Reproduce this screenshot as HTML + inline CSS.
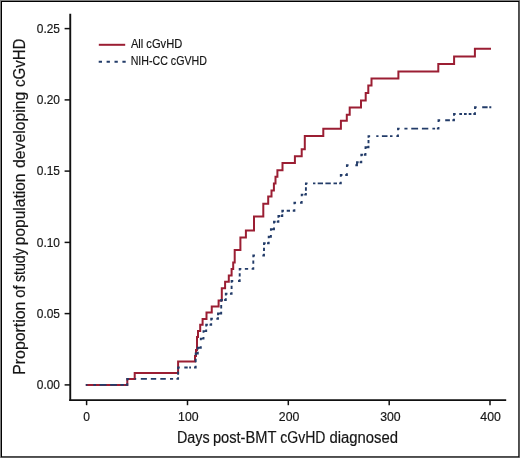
<!DOCTYPE html>
<html>
<head>
<meta charset="utf-8">
<title>cGvHD cumulative incidence</title>
<style>
html,body{margin:0;padding:0;background:#fff;}
body{width:520px;height:458px;overflow:hidden;font-family:"Liberation Sans",sans-serif;}
svg{display:block;will-change:transform;opacity:0.9999;}
text{font-family:"Liberation Sans",sans-serif;fill:#151515;stroke:#151515;stroke-width:0.18px;}
</style>
</head>
<body>
<svg width="520" height="458" viewBox="0 0 520 458">
  <!-- frame -->
  <rect x="0" y="0" width="520" height="458" fill="#fff"/>
  <rect x="0.5" y="0.5" width="519" height="457" fill="none" stroke="#808080" stroke-width="1"/>
  <rect x="1.5" y="1.5" width="517.3" height="455.3" fill="none" stroke="#000" stroke-width="1"/>

  <!-- axes -->
  <g stroke="#111" fill="none" stroke-linecap="butt">
    <path d="M70.25 13.8 V401.1" stroke-width="1.9"/>
    <path d="M69.3 400.1 H506.2" stroke-width="1.9"/>
    <!-- y ticks -->
    <g stroke-width="1.5">
      <path d="M64.6 28.6H70"/>
      <path d="M64.6 99.9H70"/>
      <path d="M64.6 171.1H70"/>
      <path d="M64.6 242.4H70"/>
      <path d="M64.6 313.6H70"/>
      <path d="M64.6 384.9H70"/>
      <!-- x ticks -->
      <path d="M86.6 400.5V405.2"/>
      <path d="M187.5 400.5V405.2"/>
      <path d="M288.3 400.5V405.2"/>
      <path d="M389.2 400.5V405.2"/>
      <path d="M490 400.5V405.2"/>
    </g>
  </g>

  <!-- y tick labels -->
  <g font-size="13.4" text-anchor="end">
    <text x="60.0" y="32.7" textLength="23.2" lengthAdjust="spacingAndGlyphs">0.25</text>
    <text x="60.0" y="104.0" textLength="23.2" lengthAdjust="spacingAndGlyphs">0.20</text>
    <text x="60.0" y="175.2" textLength="23.2" lengthAdjust="spacingAndGlyphs">0.15</text>
    <text x="60.0" y="246.5" textLength="23.2" lengthAdjust="spacingAndGlyphs">0.10</text>
    <text x="60.0" y="317.7" textLength="23.2" lengthAdjust="spacingAndGlyphs">0.05</text>
    <text x="60.0" y="389.0" textLength="23.2" lengthAdjust="spacingAndGlyphs">0.00</text>
  </g>
  <!-- x tick labels -->
  <g font-size="12.9" text-anchor="middle">
    <text x="86.6" y="420.9" textLength="6.7" lengthAdjust="spacingAndGlyphs">0</text>
    <text x="188.3" y="420.9" textLength="20.5" lengthAdjust="spacingAndGlyphs">100</text>
    <text x="289.1" y="420.9" textLength="20.5" lengthAdjust="spacingAndGlyphs">200</text>
    <text x="390.4" y="420.9" textLength="20.5" lengthAdjust="spacingAndGlyphs">300</text>
    <text x="490.6" y="420.9" textLength="20.5" lengthAdjust="spacingAndGlyphs">400</text>
  </g>

  <!-- axis titles -->
  <g font-size="15.6" id="xtitle">
    <text x="177.0" y="442.7" textLength="32.6" lengthAdjust="spacingAndGlyphs">Days</text>
    <text x="212.9" y="442.7" textLength="63.6" lengthAdjust="spacingAndGlyphs">post-BMT</text>
    <text x="280.3" y="442.7" textLength="45.2" lengthAdjust="spacingAndGlyphs">cGvHD</text>
    <text x="329.4" y="442.7" textLength="68.6" lengthAdjust="spacingAndGlyphs">diagnosed</text>
  </g>
  <g font-size="15.6" id="ytitle" transform="translate(25.1 373.8) rotate(-90)">
    <text x="-1.0" y="0" textLength="73.2" lengthAdjust="spacingAndGlyphs">Proportion</text>
    <text x="76.1" y="0" textLength="12.3" lengthAdjust="spacingAndGlyphs">of</text>
    <text x="91.8" y="0" textLength="33.8" lengthAdjust="spacingAndGlyphs">study</text>
    <text x="128.6" y="0" textLength="71.7" lengthAdjust="spacingAndGlyphs">population</text>
    <text x="205.8" y="0" textLength="76.3" lengthAdjust="spacingAndGlyphs">developing</text>
    <text x="286.9" y="0" textLength="48.3" lengthAdjust="spacingAndGlyphs">cGvHD</text>
  </g>

  <!-- legend -->
  <path d="M98.8 44.8H125.2" stroke="#9b1e33" stroke-width="2" fill="none"/>
  <path d="M98.7 61.85H126" stroke="#233c69" stroke-width="2" fill="none" stroke-dasharray="3.3 4.6"/>
  <text x="130.9" y="48.2" font-size="12.5" textLength="51.4" lengthAdjust="spacingAndGlyphs">All cGvHD</text>
  <text x="130.7" y="65.2" font-size="12.5" textLength="76.2" lengthAdjust="spacingAndGlyphs">NIH-CC cGVHD</text>

  <!-- red curve: All cGvHD -->
  <path id="red" fill="none" stroke="#9b1e33" stroke-width="2" stroke-linejoin="miter" d="M85.8 384.9 H127.3 V378.9 H134.7 V372.9 H178.1 V361.6 H195 V356 H196 V350 H197 V337 H198 V331 H200.2 V324.7 H202.6 V319.1 H206.5 V312.5 H211.75 V306.4 H218.6 V300.4 H221.8 V288.3 H225.1 V281.8 H228.8 V275.5 H231.6 V269 H233.2 V262.5 H234.7 V250 H240.4 V237.5 H245.9 V230.5 H254 V216.6 H263.3 V203.8 H268.2 V196.4 H271.5 V190.4 H273.9 V183.6 H275.5 V176.7 H277.4 V170.2 H282.5 V162.9 H294.9 V156.3 H301.7 V149.2 H304.8 V135.9 H323.3 V128.8 H340.9 V120.8 H346.8 V114.7 H349.7 V107.6 H361 V100.5 H365.7 V93.1 H368.3 V85.6 H371.5 V78.4 H398.4 V71.4 H438.3 V63.9 H454.1 V56.6 H474.9 V48.8 H491"/>

  <!-- blue curve: NIH-CC cGVHD -->
  <path id="blue" fill="none" stroke="#233c69" stroke-width="1.9" stroke-linejoin="miter" d="M85.8 384.9 L87.45 384.9 M125.65 384.9 L127.3 384.9 L127.3 383.25 M127.3 380.55 L127.3 378.9 L128.95 378.9 M176.45 378.9 L178.1 378.9 L178.1 377.25 M178.1 369.15 L178.1 367.5 L179.75 367.5 M194.05 367.5 L195.7 367.5 L195.7 365.85 M195.7 355.15 L195.7 353.5 L196.75 353.5 M196.75 353.5 L197.8 353.5 L197.8 351.85 M197.8 349.45 L197.8 347.8 L199.3 347.8 M199.3 347.8 L200.8 347.8 L200.8 346.15 M200.8 340.25 L200.8 338.6 L202.15 338.6 M202.15 338.6 L203.5 338.6 L203.5 336.95 M203.5 332.75 L203.5 331.1 L204.85 331.1 M204.85 331.1 L206.2 331.1 L206.2 329.45 M206.2 326.45 L206.2 324.8 L207.85 324.8 M209.55 324.8 L211.2 324.8 L211.2 323.15 M211.2 320.45 L211.2 318.8 L212.85 318.8 M216.35 318.8 L218 318.8 L218 317.15 M218 315.15 L218 313.5 L219.6 313.5 M219.6 313.5 L221.2 313.5 L221.2 311.85 M221.2 301.65 L221.2 300 L222.85 300 M224.15 300 L225.8 300 L225.8 298.35 M225.8 295.45 L225.8 293.8 L227.45 293.8 M229.95 293.8 L231.6 293.8 L231.6 292.15 M231.6 282.65 L231.6 281 L233.25 281 M238.05 281 L239.7 281 L239.7 279.35 M239.7 270.55 L239.7 268.9 L241.35 268.9 M251.65 268.9 L253.3 268.9 L253.3 267.25 M253.3 257.15 L253.3 255.5 L254.95 255.5 M262.35 255.5 L264 255.5 L264 253.85 M264 244.95 L264 243.3 L265.65 243.3 M267.05 243.3 L268.7 243.3 L268.7 241.65 M268.7 238.35 L268.7 236.7 L269.8 236.7 M269.8 236.7 L270.9 236.7 L270.9 235.05 M270.9 230.85 L270.9 229.2 L272.45 229.2 M272.45 229.2 L274 229.2 L274 227.55 M274 223.45 L274 221.8 L275.65 221.8 M276.75 221.8 L278.4 221.8 L278.4 220.15 M278.4 217.65 L278.4 216 L280.05 216 M280.65 216 L282.3 216 L282.3 214.35 M282.3 212.45 L282.3 210.8 L283.95 210.8 M292.75 210.8 L294.4 210.8 L294.4 209.15 M294.4 204.35 L294.4 202.7 L296.05 202.7 M300.05 202.7 L301.7 202.7 L301.7 201.05 M301.7 196.25 L301.7 194.6 L303.35 194.6 M304.25 194.6 L305.9 194.6 L305.9 192.95 M305.9 185.05 L305.9 183.4 L307.55 183.4 M339.15 183.4 L340.8 183.4 L340.8 181.75 M340.8 176.65 L340.8 175 L342.45 175 M345.25 175 L346.9 175 L346.9 173.35 M346.9 166.95 L346.9 165.3 L348.55 165.3 M355.35 165.3 L357 165.3 L357 163.8 M357 163.8 L357 162.3 L358.65 162.3 M359.65 162.3 L361.3 162.3 L361.3 160.65 M361.3 156.35 L361.3 154.7 L362.95 154.7 M363.85 154.7 L365.5 154.7 L365.5 153.05 M365.5 148.95 L365.5 147.3 L367 147.3 M367 147.3 L368.5 147.3 L368.5 145.65 M368.5 137.75 L368.5 136.1 L370.15 136.1 M396.35 136.1 L398 136.1 L398 134.45 M398 130.25 L398 128.6 L399.65 128.6 M436.85 128.6 L438.5 128.6 L438.5 126.95 M438.5 121.95 L438.5 120.3 L440.15 120.3 M452.35 120.3 L454 120.3 L454 118.65 M454 115.65 L454 114 L455.65 114 M473.35 114 L475 114 L475 112.35 M475 108.95 L475 107.3 L476.65 107.3 M489.35 107.3 L491 107.3 M93.3 384.9 H96.1 M99.6 384.9 H106.5 M110.2 384.9 H116.9 M120.4 384.9 H123.8 M134.7 378.9 H136.2 M140.8 378.9 H146.9 M150.8 378.9 H156.2 M160.3 378.9 H165.8 M170 378.9 H173.1 M178.1 374.85 L178.1 371.55 M184.3 367.5 H187.7 M189.2 367.5 H191 M195.7 362.15 L195.7 358.85 M221.2 308.4 L221.2 305.1 M231.6 289.05 L231.6 285.75 M239.7 276.6 L239.7 273.3 M244.85 268.9 L248.15 268.9 M253.3 263.85 L253.3 260.55 M264 251.05 L264 247.75 M286.7 210.8 L290 210.8 M305.9 190.65 L305.9 187.35 M313 183.4 H315.4 M317.7 183.4 H323 M325.4 183.4 H330.8 M333.5 183.4 H337 M368.5 143.35 L368.5 140.05 M376.25 136.1 H378.5 M381.9 136.1 H387.5 M390 136.1 H392.5 M404.4 128.6 H407.5 M411.25 128.6 H418.1 M421.9 128.6 H428.3 M432.4 128.6 H435.1 M445.2 120.3 H449.9 M459.3 114 H462 M464 114 H466.7 M468.7 114 H471.4 M482.2 107.3 H487.6 M489.3 107.3 H491.3"/>
</svg>
</body>
</html>
